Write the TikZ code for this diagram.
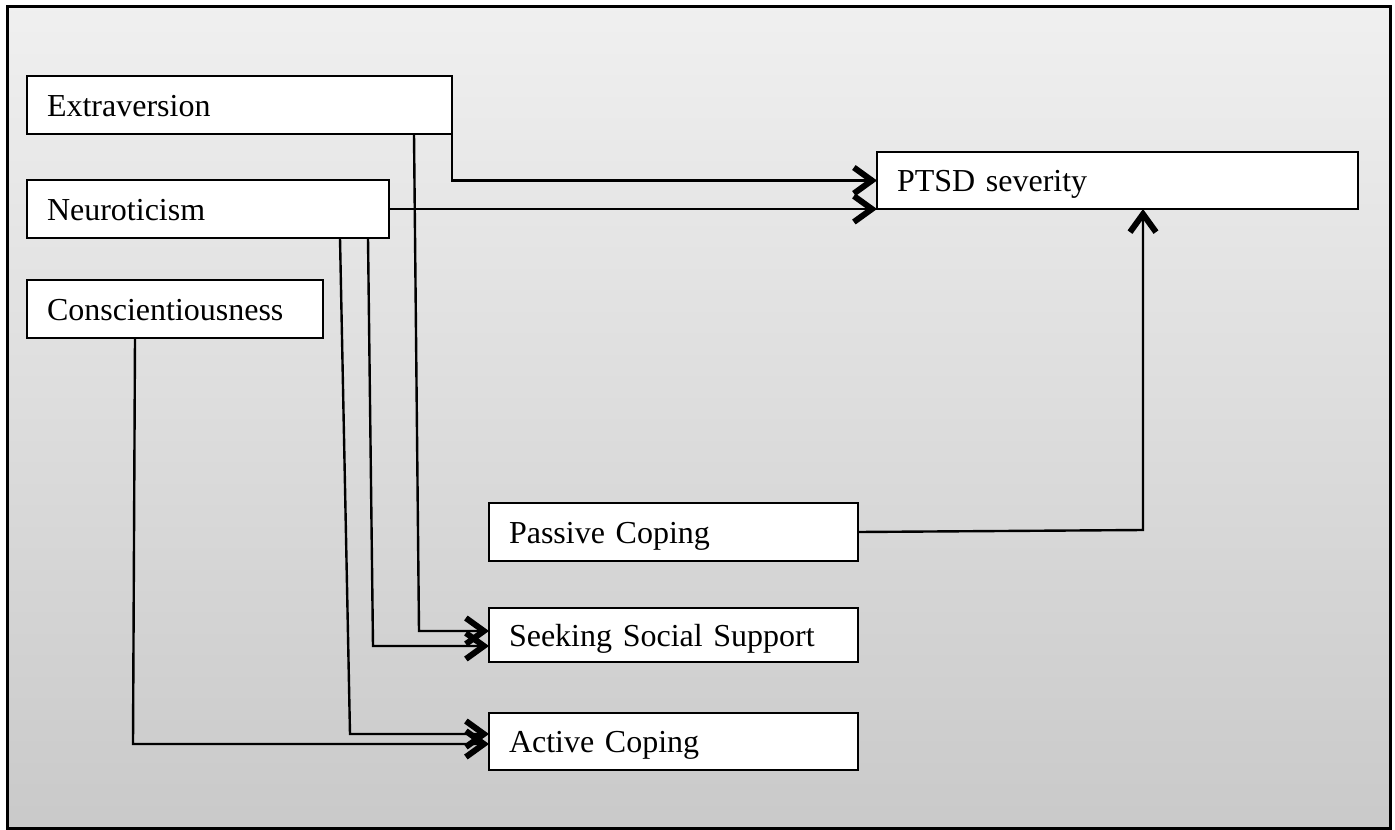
\documentclass[tikz,border=0pt]{standalone}
\usepackage{fontspec}
\setmainfont{Liberation Serif}
\usetikzlibrary{arrows.meta}
\definecolor{bgtop}{gray}{0.94}
\definecolor{bgbottom}{gray}{0.79}

\begin{document}
\begin{tikzpicture}[x=1pt,y=-1pt,
    box/.style={draw,line width=2.2pt,fill=white,anchor=north west,outer sep=0pt,
      minimum height=58pt,inner xsep=20pt,inner ysep=0pt,text width=#1,
      text height=22pt,text depth=0pt,align=left,font=\fontsize{32}{38}\selectfont},
    link/.style={line width=2.4pt,-{Straight Barb[length=18pt,width=26pt,line width=6pt 0]}}]
      \useasboundingbox (0,0) rectangle (1395,830);
      \shade[top color=bgtop,bottom color=bgbottom] (7,6) rectangle (1390,828);
      \draw[line width=3pt] (7,6) rectangle (1390,828);

      \node[box=385pt] (extra) at (27,76) {Extraversion};
      \node[box=322pt] (neuro) at (27,180) {Neuroticism};
      \node[box=256pt] (consc) at (27,280) {Conscientiousness};
      \node[box=441pt,minimum height=57pt] (ptsd) at (877,152) {PTSD severity};
      \node[box=329pt] (passive) at (489,503) {Passive Coping};
      \node[box=329pt,minimum height=54pt] (seeking) at (489,608) {Seeking Social Support};
      \node[box=329pt,minimum height=57pt] (active) at (489,713) {Active Coping};

      \coordinate (k1) at (419,631);
      \coordinate (k2) at (373,646);
      \coordinate (k3) at (350,734);
      \coordinate (k4) at (133,744);
      \coordinate (k5) at (1143,530);

      \draw[link] (extra.south east) |- (ptsd.west);
      \draw[link] (neuro.east) -- (neuro.east -| ptsd.west);
      \draw[link] (extra.south west) ++(387,0) -- (k1) -- (k1 -| seeking.west);
      \draw[link] (neuro.south west) ++(341,0) -- (k2) -- (k2 -| seeking.west);
      \draw[link] (neuro.south west) ++(313,0) -- (k3) -- (k3 -| active.west);
      \draw[link] (consc.south west) ++(108,0) -- (k4) -- (k4 -| active.west);
      \draw[link] (passive.east) -- (k5) -- (k5 |- ptsd.south);
\end{tikzpicture}
\end{document}
